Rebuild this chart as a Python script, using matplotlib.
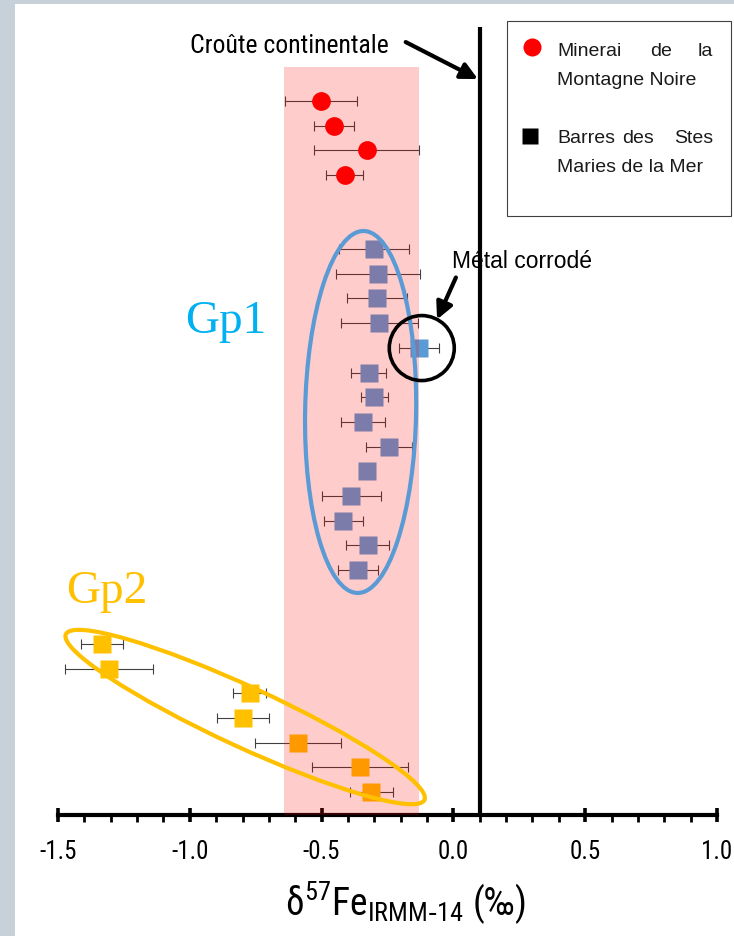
import matplotlib
matplotlib.use('Agg')
import matplotlib.pyplot as plt
from matplotlib.patches import Ellipse, Rectangle
from matplotlib.lines import Line2D
from matplotlib.transforms import ScaledTranslation
from matplotlib.ticker import MultipleLocator

narrow = ['Roboto Condensed', 'DejaVu Sans']
plt.rcParams['font.family'] = ['Liberation Sans', 'DejaVu Sans']
plt.rcParams['mathtext.default'] = 'regular'

# Gp2 (barres, lignes 1-7)
gp2_rows = [1, 2, 3, 4, 5, 6, 7]
gp2_x = [-0.311, -0.355, -0.589, -0.798, -0.773, -1.308, -1.334]
gp2_err = [0.080, 0.182, 0.162, 0.100, 0.063, 0.167, 0.080]

# Gp1 (barres, lignes 10-23)
gp1_rows = [10, 11, 12, 13, 14, 15, 16, 17, 18, 19, 20, 21, 22, 23]
gp1_x = [-0.362, -0.325, -0.417, -0.387, -0.329, -0.244, -0.343,
         -0.300, -0.322, -0.130, -0.281, -0.291, -0.287, -0.300]
gp1_err = [0.077, 0.082, 0.073, 0.112, 0.0, 0.086, 0.083,
           0.050, 0.068, 0.075, 0.145, 0.114, 0.160, 0.133]

# Minerai de la Montagne Noire (lignes 26-29)
mn_rows = [26, 27, 28, 29]
mn_x = [-0.413, -0.329, -0.454, -0.502]
mn_err = [0.070, 0.200, 0.076, 0.138]

crust = 0.1              # croûte continentale
band = (-0.644, -0.130)  # bande rose

W, H = 734, 937
fig = plt.figure(figsize=(W / 100, H / 100), dpi=100)
ax = fig.add_axes([58 / W, 1 - 816 / H, (717 - 58) / W, (816 - 28) / H])


def fx(px):
    return px / W


def fy(py):
    return 1 - py / H


# bordure grise
fig.add_artist(Rectangle((0, 0), fx(15), 1, transform=fig.transFigure, fc='#c6d1d9', ec='none'))
fig.add_artist(Rectangle((0, fy(5)), 1, fy(0) - fy(5), transform=fig.transFigure, fc='#c6d1d9', ec='none'))

eb = dict(fmt='none', ecolor='#404040', elinewidth=0.8, capsize=3.6, capthick=0.8, zorder=1.5)
ax.errorbar(gp2_x, gp2_rows, xerr=gp2_err, **eb)
ax.errorbar(gp1_x, gp1_rows, xerr=gp1_err, **eb)
ax.errorbar(mn_x, mn_rows, xerr=mn_err, **eb)
ax.plot(gp2_x, gp2_rows, 's', color='#FFC000', ms=13, mec='none', zorder=2)
ax.plot(gp1_x, gp1_rows, 's', color='#5B9BD5', ms=13, mec='none', zorder=2)
ax.plot(mn_x, mn_rows, 'o', color='#FF0000', ms=13.5, mec='none', zorder=2)

ylim = (0.07, 32.0)
ax.fill_betweenx([ylim[0], 30.36], band[0], band[1], color='red', alpha=0.2, lw=0, zorder=3)
ax.axvline(crust, color='black', lw=3, zorder=5)


def ellipse(cx, cy, w, h, ang, color, lw):
    trans = fig.dpi_scale_trans + ScaledTranslation(cx, cy, ax.transData)
    e = Ellipse((0, 0), w, h, angle=ang, transform=trans, fill=False, ec=color, lw=lw,
                zorder=4, clip_on=False)
    ax.add_patch(e)


ellipse(-0.352, 16.4, 1.11, 3.62, -1, '#5B9BD5', 3)
ellipse(-0.790, 4.04, 3.95, 0.60, -24.8, '#FFC000', 3)
ellipse(-0.120, 18.99, 0.65, 0.65, 0, 'black', 2.6)

ax.set_xlim(-1.5, 1.0)
ax.set_ylim(*ylim)

# annotations
arrow = dict(arrowstyle='-|>', lw=3, color='black', mutation_scale=25, shrinkA=0, shrinkB=0)
ax.annotate('', xy=(0.093, 29.89), xytext=(-0.181, 31.39), arrowprops=arrow, zorder=6)
ax.annotate('', xy=(-0.062, 20.15), xytext=(0.0095, 21.85), arrowprops=arrow, zorder=6)
fig.text(fx(389), fy(53), 'Croûte continentale', family=narrow, fontsize=18.5, ha='right', va='baseline')
fig.text(fx(452), fy(268), 'Métal corrodé', fontsize=16.5, ha='left', va='baseline', zorder=0)
fig.text(fx(185), fy(333), 'Gp1', family='Liberation Serif', fontsize=34, color='#00B0F0', va='baseline')
fig.text(fx(66), fy(603), 'Gp2', family='Liberation Serif', fontsize=34, color='#FFC000', va='baseline')

# axe
for s in ['left', 'right', 'top']:
    ax.spines[s].set_visible(False)
ax.spines['bottom'].set_linewidth(3)
ax.set_yticks([])
ax.set_xticks([-1.5, -1.0, -0.5, 0.0, 0.5, 1.0])
ax.set_xticklabels(['-1.5', '-1.0', '-0.5', '0.0', '0.5', '1.0'], family=narrow)
ax.xaxis.set_minor_locator(MultipleLocator(0.1))
ax.tick_params(axis='x', which='major', direction='inout', length=10, width=2.6, labelsize=18, pad=12)
ax.tick_params(axis='x', which='minor', direction='out', length=5, width=2)
fig.text(fx(406), fy(903), r'δ$^{57}$Fe$_{IRMM\text{-}14}$ (‰)', family=narrow, fontsize=27,
         ha='center', va='center')

# légende
fig.add_artist(Rectangle((fx(507), fy(217)), fx(731) - fx(507), fy(22) - fy(217),
                         transform=fig.transFigure, fc='white', ec='#404040', lw=0.8))
fig.add_artist(Line2D([fx(532)], [fy(48)], marker='o', color='#FF0000', ms=13, mec='none',
                      transform=fig.transFigure))
fig.add_artist(Line2D([fx(530)], [fy(137)], marker='s', color='black', ms=12, mec='none',
                      transform=fig.transFigure))
lt = dict(fontsize=14, va='baseline', color='#1a1a1a')
fig.text(fx(557), fy(56), 'Minerai', ha='left', **lt)
fig.text(fx(661), fy(56), 'de', ha='center', **lt)
fig.text(fx(713), fy(56), 'la', ha='right', **lt)
fig.text(fx(557), fy(85), 'Montagne Noire', ha='left', **lt)
fig.text(fx(557), fy(143), 'Barres', ha='left', **lt)
fig.text(fx(638), fy(143), 'des', ha='center', **lt)
fig.text(fx(713), fy(143), 'Stes', ha='right', **lt)
fig.text(fx(557), fy(172), 'Maries de la Mer', ha='left', **lt)

fig.savefig('out.png', dpi=100)
